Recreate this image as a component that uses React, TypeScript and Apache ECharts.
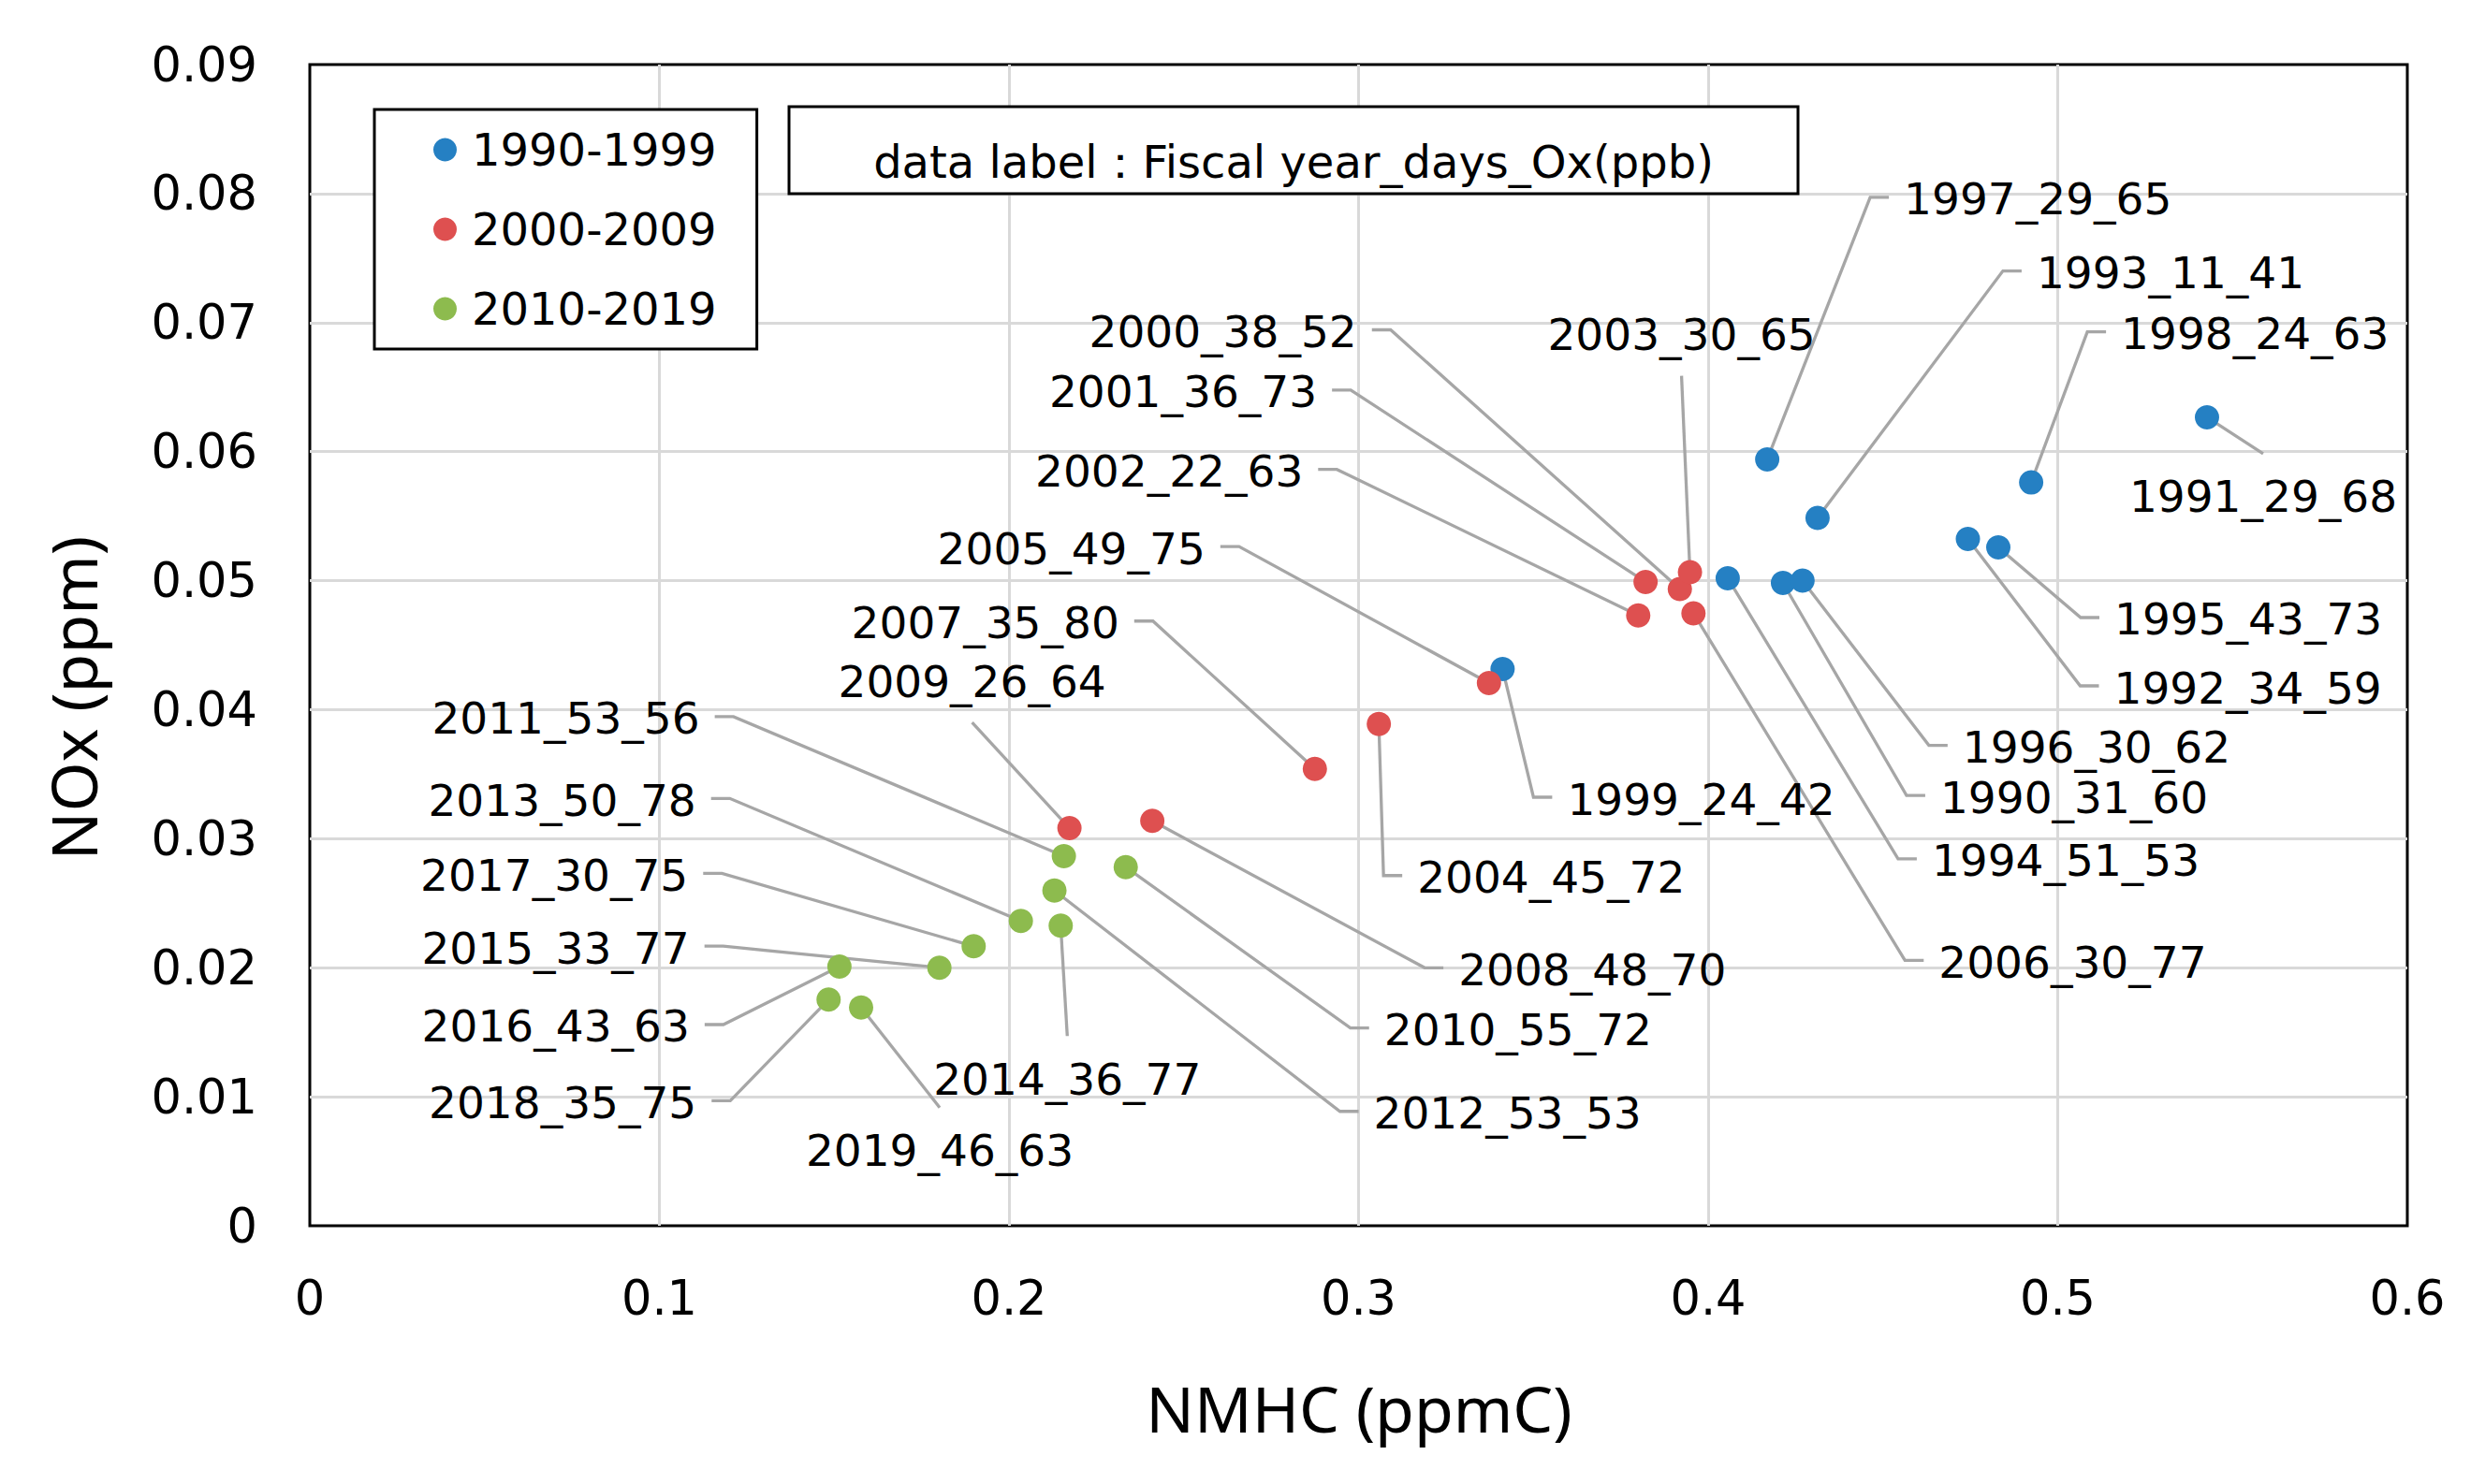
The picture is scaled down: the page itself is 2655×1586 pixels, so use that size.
import React, { useEffect, useRef } from 'react';
import * as echarts from 'echarts';

const W = 2655;
const H = 1586;

const seriesNames = ['1990-1999', '2000-2009', '2010-2019'];
const seriesColors = ['#2580C3', '#DE5050', '#8DBB4E'];

const xTicks = { min: 0, max: 0.6, step: 0.1 };
const yTicks = { min: 0, max: 0.09, step: 0.01 };

const labels90 = ['1990_31_60', '1991_29_68', '1992_34_59', '1993_11_41', '1994_51_53', '1995_43_73', '1996_30_62', '1997_29_65', '1998_24_63', '1999_24_42'];
const nmhc90 = [0.4214, 0.5427, 0.4743, 0.4313, 0.4056, 0.483, 0.427, 0.4169, 0.4924, 0.3412];
const nox90 = [0.04982, 0.06266, 0.05323, 0.05486, 0.05019, 0.05258, 0.05, 0.0594, 0.05761, 0.04315];

const labels00 = ['2000_38_52', '2001_36_73', '2002_22_63', '2003_30_65', '2004_45_72', '2005_49_75', '2006_30_77', '2007_35_80', '2008_48_70', '2009_26_64'];
const nmhc00 = [0.3919, 0.3821, 0.38, 0.3948, 0.3058, 0.3373, 0.3958, 0.2875, 0.241, 0.2173];
const nox00 = [0.04935, 0.0499, 0.04731, 0.05065, 0.03889, 0.04206, 0.04747, 0.03541, 0.03138, 0.03082];

const labels10 = ['2010_55_72', '2011_53_56', '2012_53_53', '2013_50_78', '2014_36_77', '2015_33_77', '2016_43_63', '2017_30_75', '2018_35_75', '2019_46_63'];
const nmhc10 = [0.2334, 0.2157, 0.213, 0.2034, 0.2148, 0.1801, 0.1515, 0.1899, 0.1484, 0.1577];
const nox10 = [0.0278, 0.02865, 0.02598, 0.02362, 0.02326, 0.02, 0.02009, 0.02166, 0.01753, 0.01692];

// label placement: pixel offset of the label from its point, and side
// (l = label right of the leader, r = label left of the leader, c = centred above/below)
const place90: [number, number, string][] = [[168, 227, 'l'], [60, 85, 'c'], [156, 157, 'l'], [234, -264, 'l'], [218, 300, 'l'], [124, 75, 'l'], [171, 176, 'l'], [146, -280, 'l'], [96, -161, 'l'], [69, 137, 'l']];
const place00: [number, number, string][] = [[-345, -277, 'r'], [-351, -205, 'r'], [-358, -156, 'r'], [-9, -254, 'c'], [41, 162, 'l'], [-303, -146, 'r'], [262, 371, 'l'], [-209, -158, 'r'], [327, 157, 'l'], [-104, -157, 'c']];
const place10: [number, number, string][] = [[276, 172, 'l'], [-389, -149, 'r'], [341, 236, 'l'], [-347, -131, 'r'], [7, 164, 'c'], [-267, -23, 'r'], [-160, 62, 'r'], [-305, -78, 'r'], [-141, 108, 'r'], [84, 153, 'c']];

const allLabels = [labels90, labels00, labels10];
const allX = [nmhc90, nmhc00, nmhc10];
const allY = [nox90, nox00, nox10];
const allPlace = [place90, place00, place10];

const FONT = 'DejaVu Sans';
const LEADER = '#A6A6A6';

function renderLabel(params: any, api: any) {
  const si = api.value(2);
  const i = api.value(3);
  const pt = api.coord([api.value(0), api.value(1)]);
  const cx = pt[0];
  const cy = pt[1];
  const pl = allPlace[si][i];
  const dx = pl[0];
  const dy = pl[1];
  const k = pl[2];
  const lx = cx + dx;
  const ly = cy + dy;
  let points: number[][];
  let tx = lx;
  let ty = ly;
  let align = 'center';
  if (k === 'c') {
    const ey = dy < 0 ? ly + 44 : ly - 46;
    points = [[cx, cy], [lx, ey]];
  } else {
    const s = k === 'l' ? -1 : 1;
    points = [[cx, cy], [lx + s * 36, ly], [lx + s * 16, ly]];
    ty = ly + 2;
    align = k === 'l' ? 'left' : 'right';
  }
  return {
    type: 'group',
    children: [
      {
        type: 'polyline',
        shape: { points },
        style: { stroke: LEADER, lineWidth: 3.3, fill: null },
        z2: 1,
      },
      {
        type: 'text',
        x: tx,
        y: ty,
        style: {
          text: allLabels[si][i],
          fontFamily: FONT,
          fontSize: 47,
          fill: '#000',
          align,
          verticalAlign: 'middle',
        },
        z2: 2,
      },
    ],
  };
}

export default function App() {
  const ref = useRef<HTMLDivElement>(null);
  useEffect(() => {
    document.body.style.margin = '0';
    const chart = echarts.init(ref.current as HTMLDivElement, null, { renderer: 'svg' });
    const scatterSeries = seriesNames.map((name, si) => ({
      type: 'scatter',
      name,
      symbol: 'circle',
      symbolSize: 26,
      itemStyle: { color: seriesColors[si], opacity: 1 },
      emphasis: { disabled: true },
      data: allLabels[si].map((lab, i) => ({ name: lab, value: [allX[si][i], allY[si][i]] })),
    }));
    const labelData: number[][] = [];
    allLabels.forEach((labs, si) => {
      labs.forEach((_, i) => {
        labelData.push([allX[si][i], allY[si][i], si, i]);
      });
    });
    chart.setOption({
      animation: false,
      backgroundColor: '#fff',
      grid: {
        left: 331,
        right: 83,
        top: 69,
        bottom: 276,
        show: true,
        borderColor: '#000',
        borderWidth: 3,
        containLabel: false,
      },
      xAxis: {
        type: 'value',
        min: xTicks.min,
        max: xTicks.max,
        interval: xTicks.step,
        axisLine: { show: false },
        axisTick: { show: false },
        axisLabel: { fontFamily: FONT, fontSize: 51, color: '#000', margin: 52 },
        splitLine: { show: true, showMinLine: false, showMaxLine: false, lineStyle: { color: '#D9D9D9', width: 3 } },
      },
      yAxis: {
        type: 'value',
        min: yTicks.min,
        max: yTicks.max,
        interval: yTicks.step,
        axisLine: { show: false },
        axisTick: { show: false },
        axisLabel: { fontFamily: FONT, fontSize: 51, color: '#000', margin: 56 },
        splitLine: { show: true, showMinLine: false, showMaxLine: false, lineStyle: { color: '#D9D9D9', width: 3 } },
      },
      legend: {
        show: true,
        orient: 'vertical',
        left: 400,
        top: 117,
        padding: [19, 43, 19, 63],
        itemGap: 37,
        itemWidth: 47,
        itemHeight: 25,
        icon: 'circle',
        backgroundColor: '#fff',
        borderColor: '#000',
        borderWidth: 3,
        borderRadius: 0,
        textStyle: { fontFamily: FONT, fontSize: 48, color: '#000' },
        data: seriesNames,
      },
      graphic: [
        {
          type: 'rect',
          z: 100,
          shape: { x: 843, y: 114, width: 1078, height: 93 },
          style: { fill: '#fff', stroke: '#000', lineWidth: 3 },
        },
        {
          type: 'text',
          z: 101,
          x: 1382,
          y: 173,
          style: {
            text: 'data label：Fiscal year_days_Ox(ppb)',
            fontFamily: FONT,
            fontSize: 48,
            fill: '#000',
            align: 'center',
            verticalAlign: 'middle',
          },
        },
        {
          type: 'text',
          x: 77,
          y: 746,
          rotation: Math.PI / 2,
          style: {
            text: 'NOx (ppm)',
            fontFamily: 'Noto Sans',
            fontSize: 68,
            fill: '#000',
            align: 'center',
            verticalAlign: 'middle',
          },
        },
        {
          type: 'text',
          x: 1452,
          y: 1504,
          style: {
            text: 'NMHC (ppmC)',
            fontFamily: 'Noto Sans',
            fontSize: 68,
            fill: '#000',
            align: 'center',
            verticalAlign: 'middle',
          },
        },
      ],
      series: [
        ...scatterSeries,
        {
          type: 'custom',
          name: 'data labels',
          coordinateSystem: 'cartesian2d',
          silent: true,
          clip: false,
          encode: { x: 0, y: 1 },
          data: labelData,
          renderItem: renderLabel,
        },
      ],
    });
    return () => {
      chart.dispose();
    };
  }, []);
  return <div ref={ref} style={{ width: W, height: H }} />;
}
